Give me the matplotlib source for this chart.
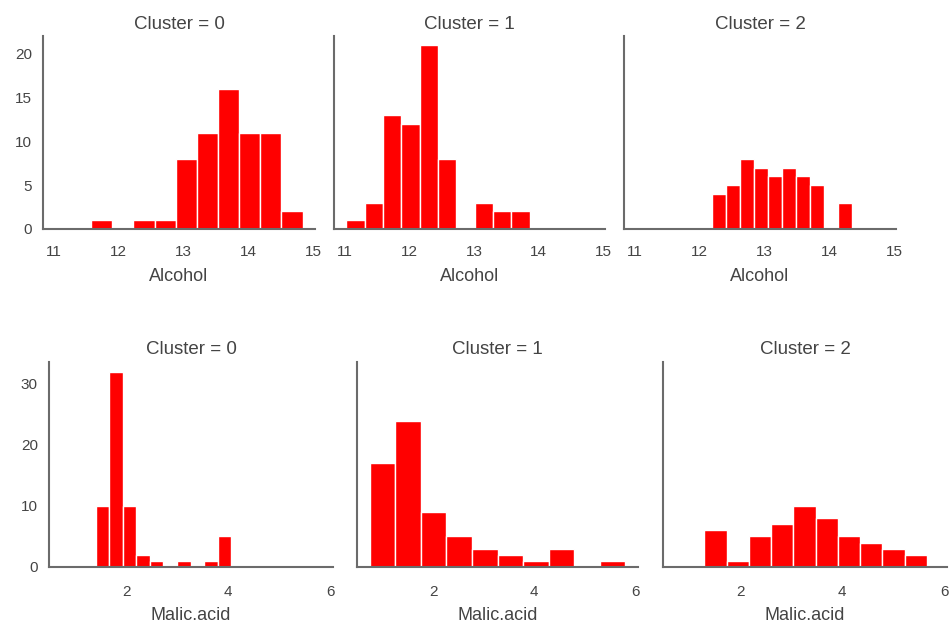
import numpy as np
import matplotlib
matplotlib.use('Agg')
import matplotlib.pyplot as plt

# histogram counts per cluster (10 equal-width bins each)
clusters = [0, 1, 2]

alcohol_ranges = [(11.58, 14.83), (11.03, 13.86), (12.20, 14.34)]
alcohol_counts = [
    [1, 0, 1, 1, 8, 11, 16, 11, 11, 2],
    [1, 3, 13, 12, 21, 8, 0, 3, 2, 2],
    [4, 5, 8, 7, 6, 7, 6, 5, 0, 3],
]
alcohol_ticks = [11, 12, 13, 14, 15]
alcohol_yticks = [0, 5, 10, 15, 20]

malic_ranges = [(1.40, 4.06), (0.74, 5.80), (1.30, 5.66)]
malic_counts = [
    [10, 32, 10, 2, 1, 0, 1, 0, 1, 5],
    [17, 24, 9, 5, 3, 2, 1, 3, 0, 1],
    [6, 1, 5, 7, 10, 8, 5, 4, 3, 2],
]
malic_ticks = [2, 4, 6]
malic_yticks = [0, 10, 20, 30]

W, H = 950, 623
text_col = '#444444'
spine_col = '#6b6b6b'
plt.rcParams['font.family'] = ['Liberation Sans', 'DejaVu Sans']

fig = plt.figure(figsize=(W / 100, H / 100), dpi=100)


def px_axes(x0, x1, ytop, ybot):
    return fig.add_axes([x0 / W, (H - ybot) / H, (x1 - x0) / W, (ybot - ytop) / H])


def draw_row(boxes, ytop, ybot, ranges, counts, xlabel, xticks, yticks, xlim, ylim,
             tickpad, labelpad, titlepad):
    for i, (x0, x1) in enumerate(boxes):
        ax = px_axes(x0, x1, ytop, ybot)
        lo, hi = ranges[i]
        edges = np.linspace(lo, hi, len(counts[i]) + 1)
        ax.bar(edges[:-1], counts[i], width=np.diff(edges), align='edge',
               color='#ff0000', edgecolor='white', linewidth=1.0)
        ax.set_xlim(*xlim)
        ax.set_ylim(*ylim)
        ax.set_xticks(xticks)
        ax.set_yticks(yticks)
        for s in ['top', 'right']:
            ax.spines[s].set_visible(False)
        for s in ['left', 'bottom']:
            ax.spines[s].set_color(spine_col)
            ax.spines[s].set_linewidth(1.5)
        ax.tick_params(length=0, labelsize=11, labelcolor=text_col)
        ax.tick_params(axis='x', pad=tickpad)
        ax.tick_params(axis='y', pad=8)
        if i > 0:
            ax.tick_params(axis='y', labelleft=False)
        ax.set_title(f'Cluster = {clusters[i]}', fontsize=13.5, color=text_col, pad=titlepad)
        ax.set_xlabel(xlabel, fontsize=13, color=text_col, labelpad=labelpad)


draw_row([(43, 315), (334, 605), (624, 896)], 36, 229,
         alcohol_ranges, alcohol_counts, 'Alcohol', alcohol_ticks, alcohol_yticks,
         (10.84, 15.02), (0, 22.05), 11.5, 6.5, 5)

draw_row([(49, 333), (357, 638), (663, 947)], 362, 567,
         malic_ranges, malic_counts, 'Malic.acid', malic_ticks, malic_yticks,
         (0.487, 6.053), (0, 33.6), 13, 5.5, 5.5)

fig.savefig('out.png', dpi=100)
